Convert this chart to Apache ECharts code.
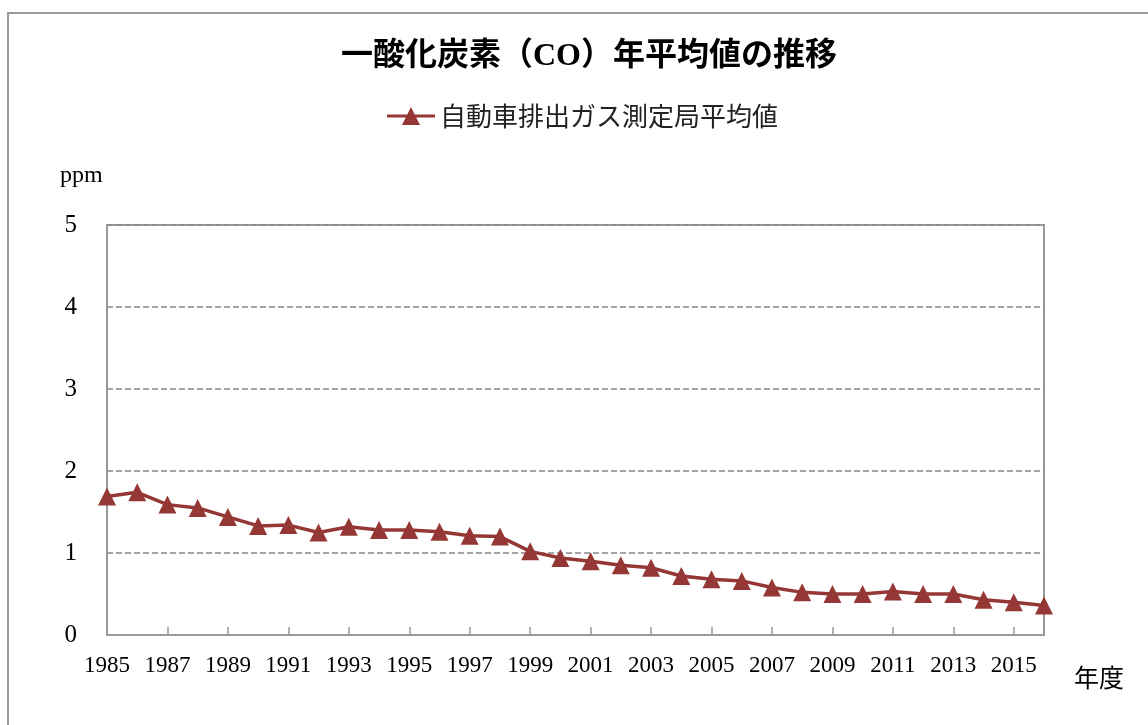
<!DOCTYPE html>
<html>
<head>
<meta charset="utf-8">
<script src="https://cdn.jsdelivr.net/npm/echarts@6/dist/echarts.min.js"></script>
<style>
html,body{margin:0;padding:0;background:#fff;}
#chart{width:1148px;height:725px;}
</style>
</head>
<body>
<div id="chart"></div>
<script>
const years = ['1985','1986','1987','1988','1989','1990','1991','1992','1993','1994','1995','1996','1997','1998','1999','2000','2001','2002','2003','2004','2005','2006','2007','2008','2009','2010','2011','2012','2013','2014','2015','2016'];
const coValues = [1.69,1.74,1.59,1.55,1.44,1.33,1.34,1.25,1.32,1.28,1.28,1.26,1.21,1.20,1.02,0.94,0.90,0.85,0.82,0.72,0.68,0.66,0.58,0.52,0.50,0.50,0.53,0.50,0.50,0.43,0.40,0.36];
const seriesName = '自動車排出ガス測定局平均値';
const titleText = '一酸化炭素（CO）年平均値の推移';

const serif = '"Liberation Serif","Times New Roman",serif';
const jp = '"Noto Sans CJK JP",sans-serif';
const red = '#953735';

const chart = echarts.init(document.getElementById('chart'));
chart.setOption({
  animation: false,
  backgroundColor: '#fff',
  graphic: [
    {type:'rect', shape:{x:8, y:13, width:1200, height:800}, style:{fill:'none', stroke:'#9a9a9a', lineWidth:2}, z:-1},
    {type:'text', left:60, top:164, style:{text:'ppm', font:'24px ' + serif, fill:'#000'}},
    {type:'text', left:1074, top:665, style:{text:'年度', font:'25px ' + jp, fill:'#000'}}
  ],
  title: {
    text: titleText,
    left: 336,
    top: 36,
    textStyle: {fontFamily: '"Liberation Serif","Noto Sans CJK JP",serif', fontSize: 32, fontWeight: 'bold', color: '#000'}
  },
  legend: {
    top: 98,
    left: 382,
    itemWidth: 48,
    itemHeight: 18,
    itemGap: 10,
    textStyle: {fontFamily: jp, fontSize: 26, color: '#222'},
    data: [{name: seriesName, icon: 'path://M0,7.5 L48,7.5 L48,10.5 L0,10.5 Z M24,0 L33,18 L15,18 Z'}]
  },
  grid: {
    left: 107, right: 104, top: 225, bottom: 90,
    show: true, borderColor: '#999', borderWidth: 2
  },
  xAxis: {
    type: 'category',
    data: years,
    boundaryGap: false,
    axisLine: {lineStyle: {color: '#999', width: 2}},
    axisTick: {show: true, inside: true, interval: 1, length: 8, lineStyle: {color: '#999', width: 1.5}},
    axisLabel: {interval: 1, fontFamily: serif, fontSize: 23, color: '#000', margin: 19},
    splitLine: {show: false}
  },
  yAxis: {
    type: 'value',
    min: 0, max: 5, interval: 1,
    axisLine: {show: true, lineStyle: {color: '#999', width: 2}},
    axisTick: {show: false},
    axisLabel: {fontFamily: serif, fontSize: 25, color: '#000', margin: 30},
    splitLine: {show: true, lineStyle: {color: '#888', type: [6, 3], width: 1.5}}
  },
  series: [{
    name: seriesName,
    type: 'line',
    data: coValues,
    symbol: 'triangle',
    symbolSize: 18,
    showAllSymbol: true,
    lineStyle: {color: red, width: 3.5},
    itemStyle: {color: red, borderWidth: 0}
  }]
});
</script>
</body>
</html>
